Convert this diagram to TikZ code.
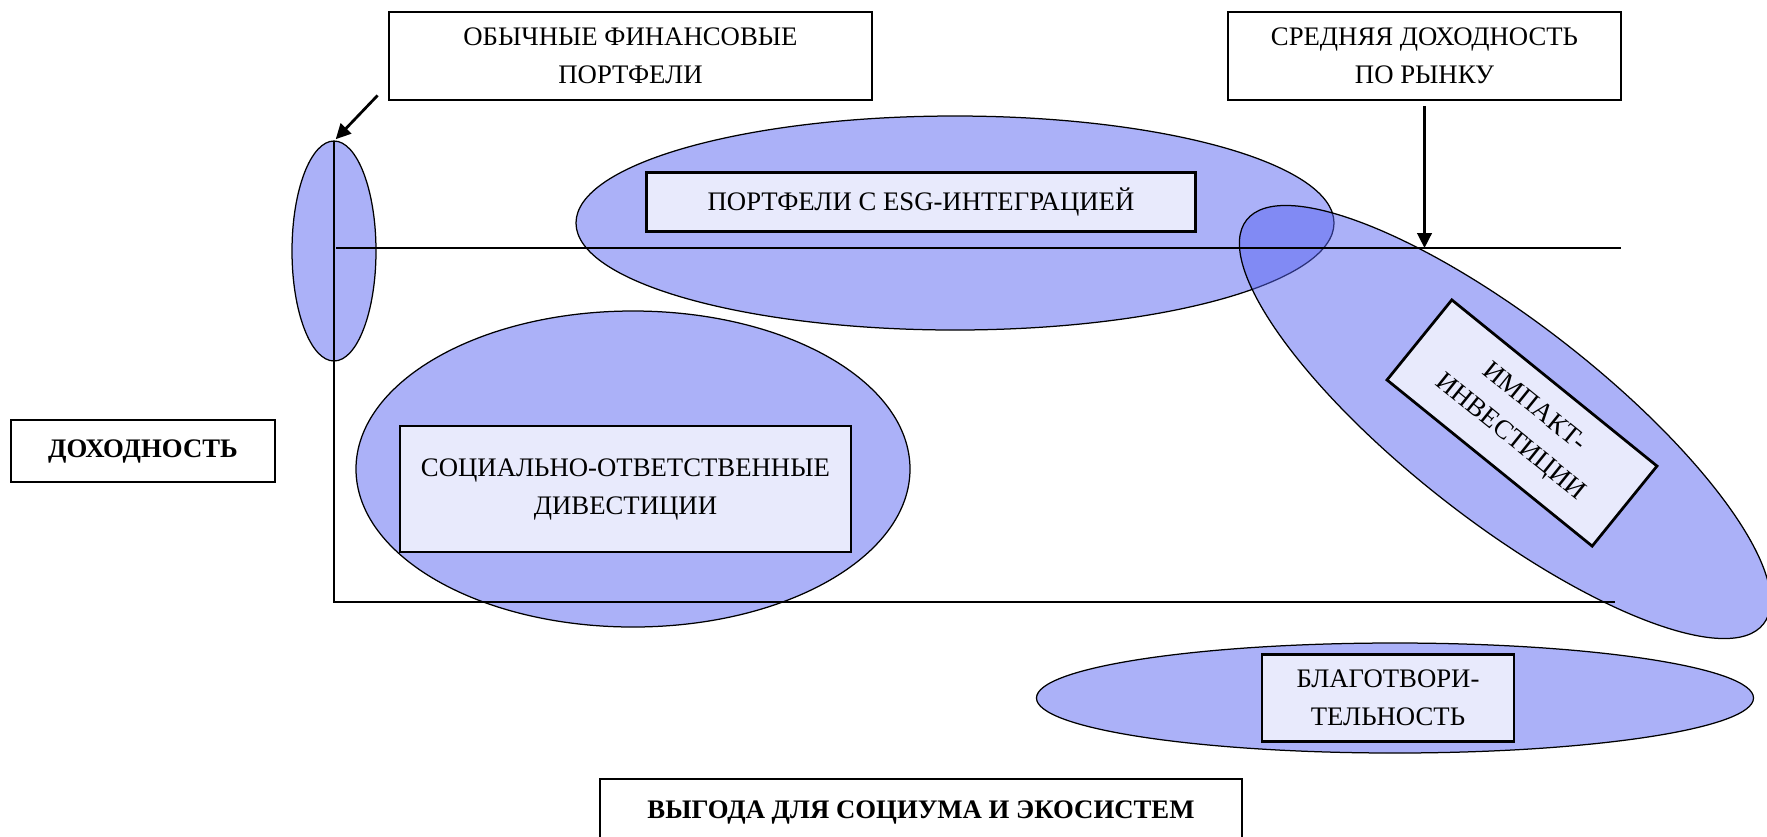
\documentclass[tikz,border=0pt]{standalone}
\usepackage{fontspec}
\setmainfont{Liberation Serif}
\usetikzlibrary{arrows.meta,positioning,shapes.geometric,calc}
\definecolor{blobblue}{RGB}{87,99,241}
\definecolor{paleblue}{RGB}{232,234,252}

\begin{document}
\begin{tikzpicture}[x=0.4pt, y=-0.4pt,
    box/.style={draw=black, line width=1.1pt, align=center, fill=white, inner sep=0pt, font=\fontsize{10.7}{15.2}\selectfont},
    tag/.style={box, fill=paleblue},
    blob/.style={ellipse, draw=black, line width=0.5pt, fill=blobblue, fill opacity=0.5, inner sep=0pt, outer sep=0pt},
    axis/.style={line width=1.1pt, draw=black},
    arrow/.style={-{Triangle[length=6pt,width=5.8pt]}, line width=1.1pt, draw=black}
]
\useasboundingbox (0,0) rectangle (1767,836);
% regions
\node[blob, minimum width=33.6pt, minimum height=88pt] (usualzone) at (334,251) {};
\node[blob, minimum width=303.2pt, minimum height=85.6pt] (esgzone) at (955,223) {};
\node[blob, minimum width=262.4pt, minimum height=79.2pt, rotate=-38] (impzone) at (1505,422) {};
\node[blob, minimum width=221.6pt, minimum height=126.4pt] (srizone) at (633,469) {};
\node[blob, minimum width=286.8pt, minimum height=44pt] (charzone) at (1395,698) {};
% axes
\coordinate (corner) at (334,602);
\coordinate (xend) at (1615,602);
\coordinate (avgl) at (336,248);
\coordinate (avgr) at (1621,248);
\draw[axis] (usualzone.north) -- (corner) -- (xend);
\draw[axis] (avgl) -- (avgr);
% labels
\node[box, minimum width=193.2pt, minimum height=35.2pt] (usual) at (630.5,56) {ОБЫЧНЫЕ ФИНАНСОВЫЕ\\ПОРТФЕЛИ};
\node[box, minimum width=157.2pt, minimum height=35.2pt] (avg) at (1424.5,56) {СРЕДНЯЯ ДОХОДНОСТЬ\\ПО РЫНКУ};
\node[tag, minimum width=219.6pt, minimum height=23.6pt] (esg) at (921,202) {ПОРТФЕЛИ С ESG-ИНТЕГРАЦИЕЙ};
\node[tag, minimum width=180.4pt, minimum height=50.4pt] (sri) at (625.5,489) {СОЦИАЛЬНО-ОТВЕТСТВЕННЫЕ\\ДИВЕСТИЦИИ};
\node[tag, minimum width=105.6pt, minimum height=41.2pt, rotate=-39] (imp) at (1522,423) {ИМПАКТ-\\ИНВЕСТИЦИИ};
\node[tag, minimum width=100.8pt, minimum height=34.8pt] (char) at (1388,698) {БЛАГОТВОРИ-\\ТЕЛЬНОСТЬ};
\node[box, minimum width=105.6pt, minimum height=24.8pt, font=\fontsize{10.7}{15.2}\selectfont\bfseries] (ret) at (143,451) {ДОХОДНОСТЬ};
\node[box, minimum width=256.8pt, minimum height=26.4pt, font=\fontsize{10.7}{15.2}\selectfont\bfseries] (gain) at (921,812) {ВЫГОДА ДЛЯ СОЦИУМА И ЭКОСИСТЕМ};
% pointers
\draw[arrow, shorten >=1pt] ($(usual.south west)+(-10,-6)$) -- (usualzone.north);
\draw[arrow, shorten <=2pt] (avg.south) -- (avg.south |- avgr);
\end{tikzpicture}
\end{document}
